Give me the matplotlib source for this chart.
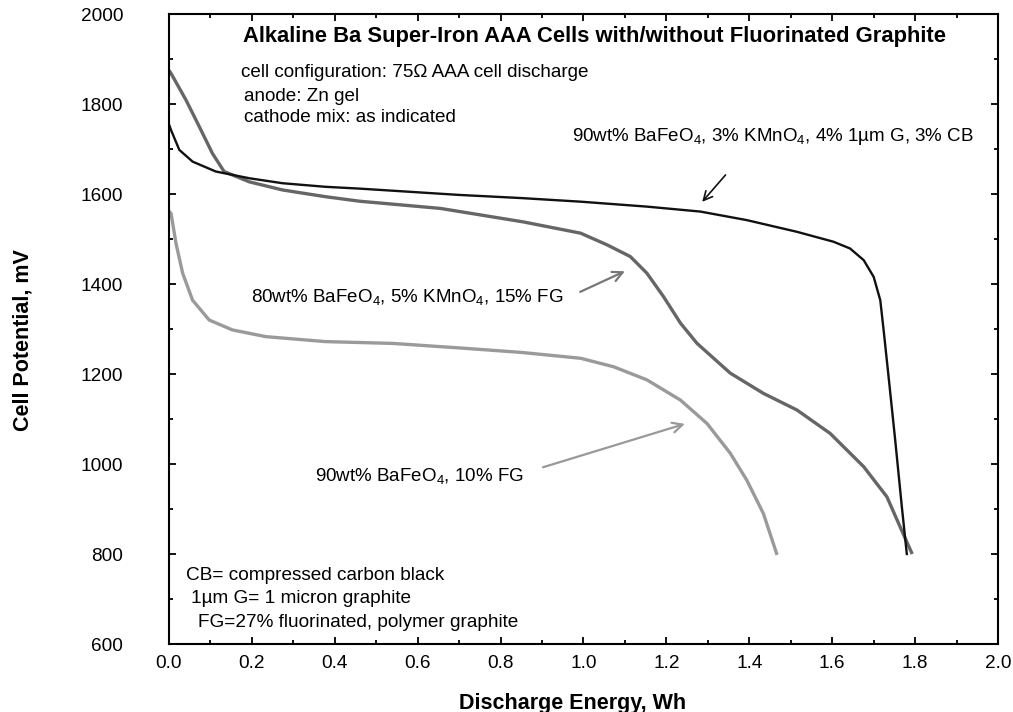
import matplotlib
matplotlib.use('Agg')
import matplotlib.pyplot as plt
from matplotlib.ticker import MultipleLocator

plt.rcParams['font.family'] = ['Liberation Sans', 'DejaVu Sans']
plt.rcParams['mathtext.fontset'] = 'custom'
plt.rcParams['mathtext.rm'] = 'Liberation Sans'
plt.rcParams['mathtext.it'] = 'Liberation Sans:italic'
plt.rcParams['mathtext.bf'] = 'Liberation Sans:bold'

# 90wt% BaFeO4, 3% KMnO4, 4% 1um G, 3% CB
kmno4_x = [0.0, 0.005, 0.025, 0.057, 0.113, 0.194, 0.274, 0.378, 0.46, 0.70, 0.85,
           0.993, 1.153, 1.282, 1.394, 1.515, 1.603, 1.643, 1.676, 1.700, 1.716,
           1.724, 1.736, 1.752, 1.768, 1.780]
kmno4_y = [1755, 1742, 1698, 1672, 1650, 1635, 1624, 1616, 1612, 1598, 1591,
           1583, 1572, 1561, 1542, 1516, 1494, 1479, 1453, 1416, 1364,
           1298, 1194, 1053, 905, 800]

# 80wt% BaFeO4, 5% KMnO4, 15% FG
fg15_x = [0.0, 0.005, 0.041, 0.073, 0.105, 0.133, 0.194, 0.274, 0.378, 0.46, 0.655,
          0.855, 0.993, 1.057, 1.113, 1.153, 1.193, 1.234, 1.274, 1.354, 1.434,
          1.515, 1.595, 1.676, 1.732, 1.764, 1.793]
fg15_y = [1875, 1868, 1809, 1750, 1690, 1650, 1627, 1609, 1594, 1584, 1568,
          1538, 1513, 1487, 1461, 1424, 1372, 1313, 1268, 1202, 1157,
          1120, 1068, 994, 927, 860, 800]

# 90wt% BaFeO4, 10% FG
fg10_x = [0.0, 0.005, 0.017, 0.033, 0.057, 0.097, 0.153, 0.234, 0.378, 0.54, 0.70,
          0.85, 0.993, 1.073, 1.153, 1.234, 1.298, 1.354, 1.394, 1.434, 1.467]
fg10_y = [1562, 1557, 1490, 1424, 1364, 1320, 1298, 1283, 1272, 1268, 1258,
          1248, 1235, 1216, 1187, 1142, 1090, 1024, 964, 890, 798]

fig = plt.figure(figsize=(10.13, 7.12), dpi=100)
ax = fig.add_axes([0.1668, 0.0955, 0.8184, 0.8848])

ax.plot(fg10_x, fg10_y, color='#9a9a9a', lw=2.4, solid_capstyle='butt', solid_joinstyle='round')
ax.plot(fg15_x, fg15_y, color='#666666', lw=2.4, solid_capstyle='butt', solid_joinstyle='round')
ax.plot(kmno4_x, kmno4_y, color='#111111', lw=1.7, solid_joinstyle='round')

ax.set_xlim(0, 2.0)
ax.set_ylim(600, 2000)
ax.xaxis.set_major_locator(MultipleLocator(0.2))
ax.xaxis.set_minor_locator(MultipleLocator(0.1))
ax.yaxis.set_major_locator(MultipleLocator(200))
ax.yaxis.set_minor_locator(MultipleLocator(100))
ax.xaxis.set_major_formatter(lambda v, p: '%.1f' % v)
ax.tick_params(which='both', direction='in', top=True, right=True, width=1.3, labelsize=13.7)
ax.tick_params(which='major', length=5)
ax.tick_params(which='minor', length=3)
ax.tick_params(axis='x', pad=8)
ax.tick_params(axis='y', pad=33)
for s in ax.spines.values():
    s.set_linewidth(1.5)

ax.set_xlabel('Discharge Energy, Wh', fontsize=15.5, fontweight='bold')
ax.set_ylabel('Cell Potential, mV', fontsize=15.5, fontweight='bold')
ax.xaxis.set_label_coords(0.487, -0.077)
ax.yaxis.set_label_coords(-0.164, 0.483)

body = 13.6
note = 13.5
ax.text(0.178, 1949, 'Alkaline Ba Super-Iron AAA Cells with/without Fluorinated Graphite',
        fontsize=15.8, fontweight='bold', va='center')
ax.text(0.173, 1871, 'cell configuration: 75\u03a9 AAA cell discharge', fontsize=body, va='center')
ax.text(0.18, 1816, 'anode: Zn gel', fontsize=body, va='center')
ax.text(0.18, 1769, 'cathode mix: as indicated', fontsize=body, va='center')

ax.text(0.041, 753, 'CB= compressed carbon black', fontsize=13.7, va='center')
ax.text(0.053, 702, '1\u00b5m G= 1 micron graphite', fontsize=13.7, va='center')
ax.text(0.070, 647, 'FG=27% fluorinated, polymer graphite', fontsize=13.7, va='center')

ax.text(0.972, 1727, '90wt% BaFeO$_{\\mathrm{4}}$, 3% KMnO$_{\\mathrm{4}}$, 4% 1\u00b5m G, 3% CB',
        fontsize=note, va='center')
ax.annotate('', xy=(1.282, 1578), xytext=(1.347, 1647),
            arrowprops=dict(arrowstyle='->', color='#111111', lw=1.2, mutation_scale=16))

ax.text(0.197, 1371, '80wt% BaFeO$_{\\mathrm{4}}$, 5% KMnO$_{\\mathrm{4}}$, 15% FG',
        fontsize=note, va='center')
ax.annotate('', xy=(1.106, 1431), xytext=(0.986, 1380),
            arrowprops=dict(arrowstyle='->', color='#777777', lw=1.6, mutation_scale=18))

ax.text(0.353, 973, '90wt% BaFeO$_{\\mathrm{4}}$, 10% FG', fontsize=note, va='center')
ax.annotate('', xy=(1.251, 1091), xytext=(0.896, 991),
            arrowprops=dict(arrowstyle='->', color='#999999', lw=1.6, mutation_scale=18))

fig.savefig('out.png', dpi=100)
